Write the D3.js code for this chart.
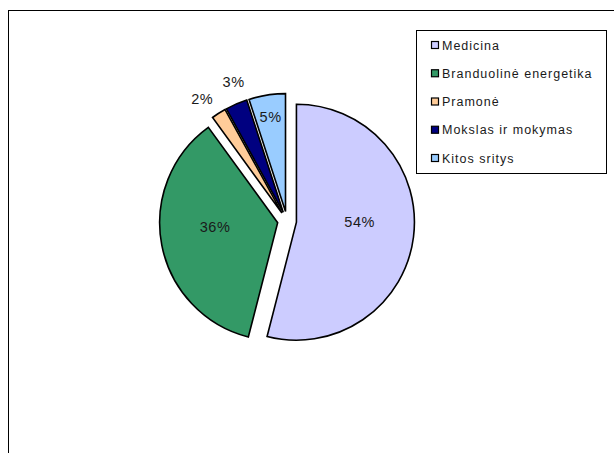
<!DOCTYPE html>
<html>
<head>
<meta charset="utf-8">
<script src="https://cdn.jsdelivr.net/npm/d3@7"></script>
<style>
  html, body { margin: 0; padding: 0; background: #fff; }
  svg { display: block; }
  text { font-family: "Liberation Sans", Arial, sans-serif; fill: #1a1a1a; }
</style>
</head>
<body>
<svg id="chart" width="614" height="453"></svg>
<script>
// Share of use by field (percent)
const categories = ["Medicina", "Branduolinė energetika", "Pramonė", "Mokslas ir mokymas", "Kitos sritys"];
const values = [54, 36, 2, 3, 5];
const colors = ["#CCCCFF", "#339966", "#FFCC99", "#000080", "#99CCFF"];

const svg = d3.select("#chart");
const W = 614, H = 453;

// chart area frame (runs off the right and bottom edges)
svg.append("rect")
  .attr("x", 8.5).attr("y", 10.5)
  .attr("width", W).attr("height", H)
  .attr("fill", "none").attr("stroke", "#000").attr("stroke-width", 1);

const cx = 287, cy = 221, radius = 118, explode = 9.5;
const total = d3.sum(values);

const pie = d3.pie().sort(null).value(d => d);
const arcs = pie(values);
const arc = d3.arc().innerRadius(0).outerRadius(radius);

const g = svg.append("g").attr("transform", `translate(${cx},${cy})`);

function mid(d) { return (d.startAngle + d.endAngle) / 2; }
function offset(r, a) { return [r * Math.sin(a), -r * Math.cos(a)]; }

// label placement: large slices inside, mid-size near the rim, thin ones outside
const outsideR = radius * 1.18;
arcs.forEach(d => {
  const share = d.value / total;
  d.labelAngle = mid(d);
  d.lift = 0;
  if (share >= 0.1) { d.labelR = radius * 0.54; d.lift = -8; d.outside = false; }
  else if (share >= 0.04) { d.labelR = radius * 0.81; d.outside = false; }
  else { d.labelR = outsideR; d.outside = true; }
});
// spread neighbouring outside labels so they do not crowd each other
const outside = arcs.filter(d => d.outside);
const minSep = 34 / outsideR;
for (let i = 1; i < outside.length; i++) {
  const a = outside[i - 1], b = outside[i];
  const gap = b.labelAngle - a.labelAngle;
  if (gap < minSep) {
    const push = (minSep - gap) / 2;
    a.labelAngle -= push;
    b.labelAngle += push;
  }
}

const slice = g.selectAll("g.slice").data(arcs).join("g")
  .attr("class", "slice")
  .attr("transform", d => { const [x, y] = offset(explode, mid(d)); return `translate(${x},${y})`; });

slice.append("path")
  .attr("d", arc)
  .attr("fill", (d, i) => colors[i])
  .attr("stroke", "#000")
  .attr("stroke-width", 1.6)
  .attr("stroke-linejoin", "miter")
  .attr("stroke-miterlimit", 3);

slice.append("text")
  .attr("text-anchor", "middle")
  .attr("dy", "0.35em")
  .style("font-size", "14.5px")
  .style("letter-spacing", "0.6px")
  .attr("transform", d => {
    const [x, y] = offset(d.labelR, d.labelAngle);
    return `translate(${x},${y + d.lift})`;
  })
  .text(d => Math.round(d.value / total * 100) + "%");

// legend
const lg = svg.append("g");
lg.append("rect")
  .attr("x", 416.5).attr("y", 30.5)
  .attr("width", 190).attr("height", 143)
  .attr("fill", "#fff").attr("stroke", "#000").attr("stroke-width", 1);

const rowY = d3.scalePoint().domain(categories).range([45, 158]);

const item = lg.selectAll("g.item").data(categories).join("g")
  .attr("class", "item")
  .attr("transform", d => `translate(0,${rowY(d)})`);

item.append("rect")
  .attr("x", 431.5).attr("y", -3.5)
  .attr("width", 7).attr("height", 7)
  .attr("fill", (d, i) => colors[i])
  .attr("stroke", "#000").attr("stroke-width", 1.2);

item.append("text")
  .attr("x", 442).attr("dy", "0.36em")
  .style("font-size", "12.5px")
  .style("letter-spacing", "1px")
  .text(d => d);
</script>
</body>
</html>
